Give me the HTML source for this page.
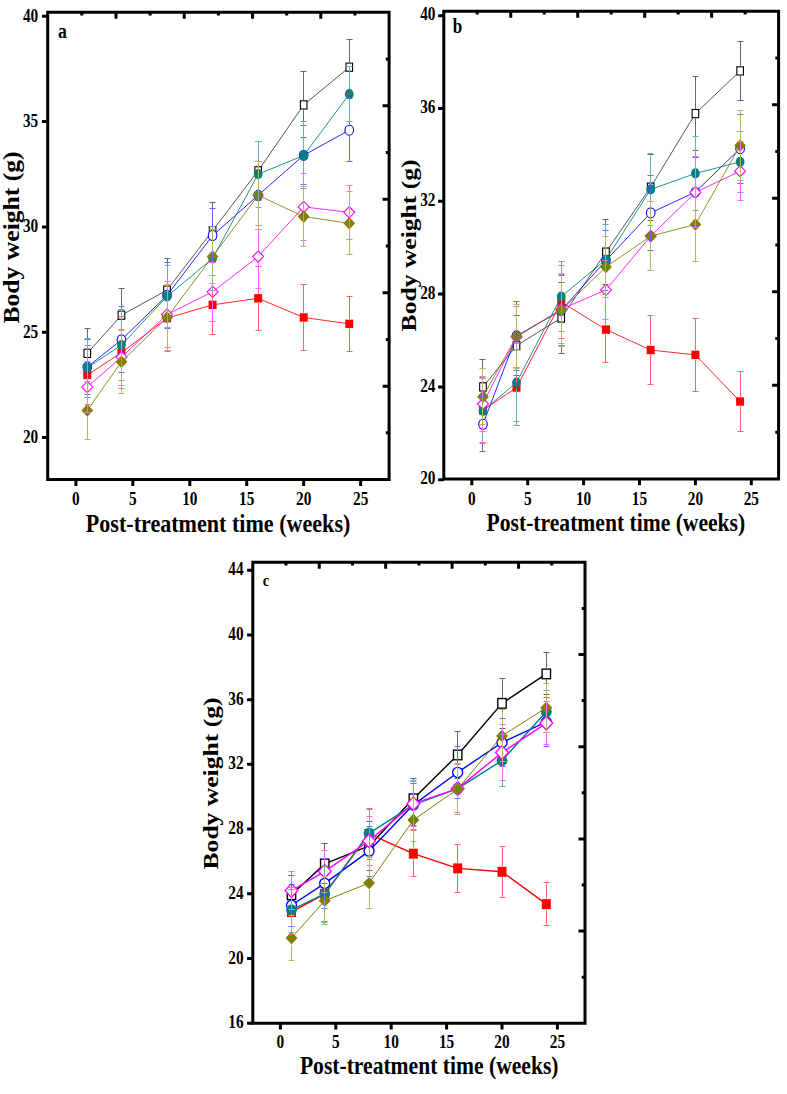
<!DOCTYPE html>
<html><head><meta charset="utf-8"><title>Body weight</title>
<style>
html,body{margin:0;padding:0;background:#fff;}
svg{display:block;}
text{font-family:"Liberation Serif", serif;font-weight:bold;fill:#000;}
.tl{font-size:18px;}
.tt{font-size:25.6px;}
.lt{font-size:20px;}
</style></head>
<body>
<svg width="787" height="1094" viewBox="0 0 787 1094">
<rect width="787" height="1094" fill="#fff"/>
<polyline points="87.29,353.32 121.46,315.18 167.02,290.11 212.58,230.69 258.14,170.85 303.70,104.90 349.26,67.19" stroke="#383838" stroke-width="0.85" fill="none" stroke-linejoin="round"/>
<rect x="83.99" y="349.22" width="6.60" height="8.20" fill="#fff" stroke="#000" stroke-width="1.1"/>
<rect x="118.16" y="311.08" width="6.60" height="8.20" fill="#fff" stroke="#000" stroke-width="1.1"/>
<rect x="163.72" y="286.01" width="6.60" height="8.20" fill="#fff" stroke="#000" stroke-width="1.1"/>
<rect x="209.28" y="226.59" width="6.60" height="8.20" fill="#fff" stroke="#000" stroke-width="1.1"/>
<rect x="254.84" y="166.75" width="6.60" height="8.20" fill="#fff" stroke="#000" stroke-width="1.1"/>
<rect x="300.40" y="100.80" width="6.60" height="8.20" fill="#fff" stroke="#000" stroke-width="1.1"/>
<rect x="345.96" y="63.09" width="6.60" height="8.20" fill="#fff" stroke="#000" stroke-width="1.1"/>
<polyline points="87.29,375.02 121.46,352.69 167.02,318.13 212.58,304.86 258.14,298.33 303.70,317.50 349.26,323.82" stroke="#ff0000" stroke-width="0.85" fill="none" stroke-linejoin="round"/>
<rect x="83.29" y="370.82" width="8.00" height="8.40" fill="#ff0000"/>
<rect x="117.46" y="348.49" width="8.00" height="8.40" fill="#ff0000"/>
<rect x="163.02" y="313.93" width="8.00" height="8.40" fill="#ff0000"/>
<rect x="208.58" y="300.66" width="8.00" height="8.40" fill="#ff0000"/>
<rect x="254.14" y="294.13" width="8.00" height="8.40" fill="#ff0000"/>
<rect x="299.70" y="313.30" width="8.00" height="8.40" fill="#ff0000"/>
<rect x="345.26" y="319.62" width="8.00" height="8.40" fill="#ff0000"/>
<polyline points="87.29,367.02 121.46,339.84 167.02,295.38 212.58,235.54 258.14,195.29 303.70,155.26 349.26,130.19" stroke="#0000ff" stroke-width="0.85" fill="none" stroke-linejoin="round"/>
<ellipse cx="87.29" cy="367.02" rx="4.30" ry="5.00" fill="#fff" stroke="#0000ff" stroke-width="1.1"/>
<ellipse cx="121.46" cy="339.84" rx="4.30" ry="5.00" fill="#fff" stroke="#0000ff" stroke-width="1.1"/>
<ellipse cx="167.02" cy="295.38" rx="4.30" ry="5.00" fill="#fff" stroke="#0000ff" stroke-width="1.1"/>
<ellipse cx="212.58" cy="235.54" rx="4.30" ry="5.00" fill="#fff" stroke="#0000ff" stroke-width="1.1"/>
<ellipse cx="258.14" cy="195.29" rx="4.30" ry="5.00" fill="#fff" stroke="#0000ff" stroke-width="1.1"/>
<ellipse cx="303.70" cy="155.26" rx="4.30" ry="5.00" fill="#fff" stroke="#0000ff" stroke-width="1.1"/>
<ellipse cx="349.26" cy="130.19" rx="4.30" ry="5.00" fill="#fff" stroke="#0000ff" stroke-width="1.1"/>
<polyline points="87.29,367.65 121.46,345.10 167.02,296.43 212.58,258.50 258.14,174.22 303.70,155.47 349.26,94.16" stroke="#008080" stroke-width="0.85" fill="none" stroke-linejoin="round"/>
<ellipse cx="87.29" cy="367.65" rx="4.40" ry="5.10" fill="#008080"/>
<ellipse cx="121.46" cy="345.10" rx="4.40" ry="5.10" fill="#008080"/>
<ellipse cx="167.02" cy="296.43" rx="4.40" ry="5.10" fill="#008080"/>
<ellipse cx="212.58" cy="258.50" rx="4.40" ry="5.10" fill="#008080"/>
<ellipse cx="258.14" cy="174.22" rx="4.40" ry="5.10" fill="#008080"/>
<ellipse cx="303.70" cy="155.47" rx="4.40" ry="5.10" fill="#008080"/>
<ellipse cx="349.26" cy="94.16" rx="4.40" ry="5.10" fill="#008080"/>
<polyline points="87.29,387.03 121.46,357.11 167.02,314.55 212.58,291.80 258.14,256.61 303.70,206.88 349.26,212.36" stroke="#ff00ff" stroke-width="0.85" fill="none" stroke-linejoin="round"/>
<path d="M87.29 381.43L92.79 387.03L87.29 392.63L81.79 387.03Z" fill="#fff" stroke="#ff00ff" stroke-width="1.1"/>
<path d="M121.46 351.51L126.96 357.11L121.46 362.71L115.96 357.11Z" fill="#fff" stroke="#ff00ff" stroke-width="1.1"/>
<path d="M167.02 308.95L172.52 314.55L167.02 320.15L161.52 314.55Z" fill="#fff" stroke="#ff00ff" stroke-width="1.1"/>
<path d="M212.58 286.20L218.08 291.80L212.58 297.40L207.08 291.80Z" fill="#fff" stroke="#ff00ff" stroke-width="1.1"/>
<path d="M258.14 251.01L263.64 256.61L258.14 262.21L252.64 256.61Z" fill="#fff" stroke="#ff00ff" stroke-width="1.1"/>
<path d="M303.70 201.28L309.20 206.88L303.70 212.48L298.20 206.88Z" fill="#fff" stroke="#ff00ff" stroke-width="1.1"/>
<path d="M349.26 206.76L354.76 212.36L349.26 217.96L343.76 212.36Z" fill="#fff" stroke="#ff00ff" stroke-width="1.1"/>
<polyline points="87.29,410.42 121.46,361.75 167.02,317.50 212.58,256.61 258.14,195.29 303.70,216.58 349.26,223.32" stroke="#808000" stroke-width="0.85" fill="none" stroke-linejoin="round"/>
<path d="M87.29 404.12L93.19 410.42L87.29 416.72L81.39 410.42Z" fill="#808000"/>
<path d="M121.46 355.45L127.36 361.75L121.46 368.05L115.56 361.75Z" fill="#808000"/>
<path d="M167.02 311.20L172.92 317.50L167.02 323.80L161.12 317.50Z" fill="#808000"/>
<path d="M212.58 250.31L218.48 256.61L212.58 262.91L206.68 256.61Z" fill="#808000"/>
<path d="M258.14 188.99L264.04 195.29L258.14 201.59L252.24 195.29Z" fill="#808000"/>
<path d="M303.70 210.28L309.60 216.58L303.70 222.88L297.80 216.58Z" fill="#808000"/>
<path d="M349.26 217.02L355.16 223.32L349.26 229.62L343.36 223.32Z" fill="#808000"/>
<path d="M87.50 328.50V348.72M87.50 357.92V378.50M84.50 328.50h6M84.50 378.50h6M121.50 288.50V310.58M121.50 319.78V342.50M118.50 288.50h6M118.50 342.50h6M167.50 258.50V285.51M167.50 294.71V321.50M164.50 258.50h6M164.50 321.50h6M212.50 202.50V226.09M212.50 235.29V258.50M209.50 202.50h6M209.50 258.50h6M258.50 141.50V166.25M258.50 175.45V200.50M255.50 141.50h6M255.50 200.50h6M303.50 71.50V100.30M303.50 109.50V137.50M300.50 71.50h6M300.50 137.50h6M349.50 39.50V62.59M349.50 71.79V94.50M346.50 39.50h6M346.50 94.50h6" stroke="#666666" stroke-width="1" fill="none"/>
<path d="M87.50 345.50V370.32M87.50 379.72V404.50M84.50 345.50h6M84.50 404.50h6M121.50 316.50V347.99M121.50 357.39V388.50M118.50 316.50h6M118.50 388.50h6M167.50 285.50V313.43M167.50 322.83V351.50M164.50 285.50h6M164.50 351.50h6M212.50 275.50V300.16M212.50 309.56V334.50M209.50 275.50h6M209.50 334.50h6M258.50 266.50V293.63M258.50 303.03V330.50M255.50 266.50h6M255.50 330.50h6M303.50 284.50V312.80M303.50 322.20V350.50M300.50 284.50h6M300.50 350.50h6M349.50 296.50V319.12M349.50 328.52V351.50M346.50 296.50h6M346.50 351.50h6" stroke="#ff6666" stroke-width="1" fill="none"/>
<path d="M87.50 339.50V361.52M87.50 372.52V394.50M84.50 339.50h6M84.50 394.50h6M121.50 306.50V334.34M121.50 345.34V372.50M118.50 306.50h6M118.50 372.50h6M167.50 262.50V289.88M167.50 300.88V328.50M164.50 262.50h6M164.50 328.50h6M212.50 208.50V230.04M212.50 241.04V262.50M209.50 208.50h6M209.50 262.50h6M258.50 161.50V189.79M258.50 200.79V229.50M255.50 161.50h6M255.50 229.50h6M303.50 125.50V149.76M303.50 160.76V184.50M300.50 125.50h6M300.50 184.50h6M349.50 98.50V124.69M349.50 135.69V161.50M346.50 98.50h6M346.50 161.50h6" stroke="#6666ff" stroke-width="1" fill="none"/>
<path d="M87.50 338.50V362.05M87.50 373.25V397.50M84.50 338.50h6M84.50 397.50h6M121.50 309.50V339.50M121.50 350.70V380.50M118.50 309.50h6M118.50 380.50h6M167.50 265.50V290.83M167.50 302.03V327.50M164.50 265.50h6M164.50 327.50h6M212.50 226.50V252.91M212.50 264.11V290.50M209.50 226.50h6M209.50 290.50h6M258.50 141.50V168.62M258.50 179.82V207.50M255.50 141.50h6M255.50 207.50h6M303.50 121.50V149.87M303.50 161.07V188.50M300.50 121.50h6M300.50 188.50h6M349.50 66.50V88.56M349.50 99.76V121.50M346.50 66.50h6M346.50 121.50h6" stroke="#66b3b3" stroke-width="1" fill="none"/>
<path d="M87.50 361.50V380.93M87.50 393.13V412.50M84.50 361.50h6M84.50 412.50h6M121.50 329.50V351.01M121.50 363.21V385.50M118.50 329.50h6M118.50 385.50h6M167.50 281.50V308.45M167.50 320.65V347.50M164.50 281.50h6M164.50 347.50h6M212.50 262.50V285.70M212.50 297.90V321.50M209.50 262.50h6M209.50 321.50h6M258.50 225.50V250.51M258.50 262.71V288.50M255.50 225.50h6M255.50 288.50h6M303.50 173.50V200.78M303.50 212.98V240.50M300.50 173.50h6M300.50 240.50h6M349.50 185.50V206.26M349.50 218.46V239.50M346.50 185.50h6M346.50 239.50h6" stroke="#ff66ff" stroke-width="1" fill="none"/>
<path d="M87.50 381.50V403.62M87.50 417.22V439.50M84.50 381.50h6M84.50 439.50h6M121.50 330.50V354.95M121.50 368.55V393.50M118.50 330.50h6M118.50 393.50h6M167.50 284.50V310.70M167.50 324.30V350.50M164.50 284.50h6M164.50 350.50h6M212.50 229.50V249.81M212.50 263.41V283.50M209.50 229.50h6M209.50 283.50h6M258.50 161.50V188.49M258.50 202.09V229.50M255.50 161.50h6M255.50 229.50h6M303.50 186.50V209.78M303.50 223.38V246.50M300.50 186.50h6M300.50 246.50h6M349.50 191.50V216.52M349.50 230.12V254.50M346.50 191.50h6M346.50 254.50h6" stroke="#b3b366" stroke-width="1" fill="none"/>
<path d="M47.70 12.30H389.10V479.60H47.70Z" fill="none" stroke="#000" stroke-width="3" stroke-linejoin="miter"/>
<path d="M42.00 437.60H47.70M42.00 332.25H47.70M42.00 226.90H47.70M42.00 121.55H47.70M42.00 16.20H47.70M75.90 479.60V485.90M132.85 479.60V485.90M189.80 479.60V485.90M246.75 479.60V485.90M303.70 479.60V485.90M360.65 479.60V485.90M81.84 12.30V15.60M115.98 12.30V18.80M150.12 12.30V15.60M184.26 12.30V18.80M218.40 12.30V15.60M252.54 12.30V18.80M286.68 12.30V15.60M320.82 12.30V18.80M354.96 12.30V15.60M389.10 59.03H385.80M389.10 105.76H382.60M389.10 152.49H385.80M389.10 199.22H382.60M389.10 245.95H385.80M389.10 292.68H382.60M389.10 339.41H385.80M389.10 386.14H382.60M389.10 432.87H385.80" stroke="#000" stroke-width="3" fill="none"/>
<text transform="translate(38.20,442.90) scale(0.85,1)" text-anchor="end" class="tl">20</text>
<text transform="translate(38.20,337.55) scale(0.85,1)" text-anchor="end" class="tl">25</text>
<text transform="translate(38.20,232.20) scale(0.85,1)" text-anchor="end" class="tl">30</text>
<text transform="translate(38.20,126.85) scale(0.85,1)" text-anchor="end" class="tl">35</text>
<text transform="translate(38.20,21.50) scale(0.85,1)" text-anchor="end" class="tl">40</text>
<text transform="translate(75.90,504.50) scale(0.85,1)" text-anchor="middle" class="tl">0</text>
<text transform="translate(132.85,504.50) scale(0.85,1)" text-anchor="middle" class="tl">5</text>
<text transform="translate(189.80,504.50) scale(0.85,1)" text-anchor="middle" class="tl">10</text>
<text transform="translate(246.75,504.50) scale(0.85,1)" text-anchor="middle" class="tl">15</text>
<text transform="translate(303.70,504.50) scale(0.85,1)" text-anchor="middle" class="tl">20</text>
<text transform="translate(360.65,504.50) scale(0.85,1)" text-anchor="middle" class="tl">25</text>
<text transform="translate(85.80,531.50) scale(0.863,1)" class="tt">Post-treatment time (weeks)</text>
<text transform="translate(18.60,237.50) rotate(-90) scale(1,0.863)" text-anchor="middle" class="tt">Body weight (g)</text>
<text transform="translate(58.00,37.60) scale(0.87,1)" style="font-size:20.5px">a</text>
<polyline points="482.98,386.90 516.52,345.60 561.24,318.00 605.96,252.11 650.68,187.15 695.40,113.60 740.12,70.92" stroke="#383838" stroke-width="0.85" fill="none" stroke-linejoin="round"/>
<rect x="479.68" y="382.80" width="6.60" height="8.20" fill="#fff" stroke="#000" stroke-width="1.1"/>
<rect x="513.22" y="341.50" width="6.60" height="8.20" fill="#fff" stroke="#000" stroke-width="1.1"/>
<rect x="557.94" y="313.90" width="6.60" height="8.20" fill="#fff" stroke="#000" stroke-width="1.1"/>
<rect x="602.66" y="248.01" width="6.60" height="8.20" fill="#fff" stroke="#000" stroke-width="1.1"/>
<rect x="647.38" y="183.05" width="6.60" height="8.20" fill="#fff" stroke="#000" stroke-width="1.1"/>
<rect x="692.10" y="109.50" width="6.60" height="8.20" fill="#fff" stroke="#000" stroke-width="1.1"/>
<rect x="736.82" y="66.82" width="6.60" height="8.20" fill="#fff" stroke="#000" stroke-width="1.1"/>
<polyline points="482.98,410.10 516.52,387.60 561.24,301.99 605.96,329.60 650.68,350.01 695.40,354.88 740.12,401.52" stroke="#ff0000" stroke-width="0.85" fill="none" stroke-linejoin="round"/>
<rect x="478.98" y="405.90" width="8.00" height="8.40" fill="#ff0000"/>
<rect x="512.52" y="383.40" width="8.00" height="8.40" fill="#ff0000"/>
<rect x="557.24" y="297.79" width="8.00" height="8.40" fill="#ff0000"/>
<rect x="601.96" y="325.40" width="8.00" height="8.40" fill="#ff0000"/>
<rect x="646.68" y="345.81" width="8.00" height="8.40" fill="#ff0000"/>
<rect x="691.40" y="350.68" width="8.00" height="8.40" fill="#ff0000"/>
<rect x="736.12" y="397.32" width="8.00" height="8.40" fill="#ff0000"/>
<polyline points="482.98,424.25 516.52,335.86 561.24,310.34 605.96,260.46 650.68,212.90 695.40,192.02 740.12,148.64" stroke="#0000ff" stroke-width="0.85" fill="none" stroke-linejoin="round"/>
<ellipse cx="482.98" cy="424.25" rx="4.30" ry="5.00" fill="#fff" stroke="#0000ff" stroke-width="1.1"/>
<ellipse cx="516.52" cy="335.86" rx="4.30" ry="5.00" fill="#fff" stroke="#0000ff" stroke-width="1.1"/>
<ellipse cx="561.24" cy="310.34" rx="4.30" ry="5.00" fill="#fff" stroke="#0000ff" stroke-width="1.1"/>
<ellipse cx="605.96" cy="260.46" rx="4.30" ry="5.00" fill="#fff" stroke="#0000ff" stroke-width="1.1"/>
<ellipse cx="650.68" cy="212.90" rx="4.30" ry="5.00" fill="#fff" stroke="#0000ff" stroke-width="1.1"/>
<ellipse cx="695.40" cy="192.02" rx="4.30" ry="5.00" fill="#fff" stroke="#0000ff" stroke-width="1.1"/>
<ellipse cx="740.12" cy="148.64" rx="4.30" ry="5.00" fill="#fff" stroke="#0000ff" stroke-width="1.1"/>
<polyline points="482.98,410.80 516.52,382.49 561.24,296.65 605.96,259.53 650.68,189.47 695.40,173.46 740.12,161.86" stroke="#008080" stroke-width="0.85" fill="none" stroke-linejoin="round"/>
<ellipse cx="482.98" cy="410.80" rx="4.40" ry="5.10" fill="#008080"/>
<ellipse cx="516.52" cy="382.49" rx="4.40" ry="5.10" fill="#008080"/>
<ellipse cx="561.24" cy="296.65" rx="4.40" ry="5.10" fill="#008080"/>
<ellipse cx="605.96" cy="259.53" rx="4.40" ry="5.10" fill="#008080"/>
<ellipse cx="650.68" cy="189.47" rx="4.40" ry="5.10" fill="#008080"/>
<ellipse cx="695.40" cy="173.46" rx="4.40" ry="5.10" fill="#008080"/>
<ellipse cx="740.12" cy="161.86" rx="4.40" ry="5.10" fill="#008080"/>
<polyline points="482.98,403.84 516.52,337.02 561.24,309.18 605.96,289.92 650.68,236.10 695.40,192.48 740.12,171.14" stroke="#ff00ff" stroke-width="0.85" fill="none" stroke-linejoin="round"/>
<path d="M482.98 398.24L488.48 403.84L482.98 409.44L477.48 403.84Z" fill="#fff" stroke="#ff00ff" stroke-width="1.1"/>
<path d="M516.52 331.42L522.02 337.02L516.52 342.62L511.02 337.02Z" fill="#fff" stroke="#ff00ff" stroke-width="1.1"/>
<path d="M561.24 303.58L566.74 309.18L561.24 314.78L555.74 309.18Z" fill="#fff" stroke="#ff00ff" stroke-width="1.1"/>
<path d="M605.96 284.32L611.46 289.92L605.96 295.52L600.46 289.92Z" fill="#fff" stroke="#ff00ff" stroke-width="1.1"/>
<path d="M650.68 230.50L656.18 236.10L650.68 241.70L645.18 236.10Z" fill="#fff" stroke="#ff00ff" stroke-width="1.1"/>
<path d="M695.40 186.88L700.90 192.48L695.40 198.08L689.90 192.48Z" fill="#fff" stroke="#ff00ff" stroke-width="1.1"/>
<path d="M740.12 165.54L745.62 171.14L740.12 176.74L734.62 171.14Z" fill="#fff" stroke="#ff00ff" stroke-width="1.1"/>
<polyline points="482.98,396.64 516.52,336.32 561.24,310.34 605.96,266.96 650.68,236.10 695.40,224.50 740.12,145.62" stroke="#808000" stroke-width="0.85" fill="none" stroke-linejoin="round"/>
<path d="M482.98 390.34L488.88 396.64L482.98 402.94L477.08 396.64Z" fill="#808000"/>
<path d="M516.52 330.02L522.42 336.32L516.52 342.62L510.62 336.32Z" fill="#808000"/>
<path d="M561.24 304.04L567.14 310.34L561.24 316.64L555.34 310.34Z" fill="#808000"/>
<path d="M605.96 260.66L611.86 266.96L605.96 273.26L600.06 266.96Z" fill="#808000"/>
<path d="M650.68 229.80L656.58 236.10L650.68 242.40L644.78 236.10Z" fill="#808000"/>
<path d="M695.40 218.20L701.30 224.50L695.40 230.80L689.50 224.50Z" fill="#808000"/>
<path d="M740.12 139.32L746.02 145.62L740.12 151.92L734.22 145.62Z" fill="#808000"/>
<path d="M482.50 359.50V382.30M482.50 391.50V414.50M479.50 359.50h6M479.50 414.50h6M516.50 315.50V341.00M516.50 350.20V375.50M513.50 315.50h6M513.50 375.50h6M561.50 282.50V313.40M561.50 322.60V353.50M558.50 282.50h6M558.50 353.50h6M605.50 219.50V247.51M605.50 256.71V284.50M602.50 219.50h6M602.50 284.50h6M650.50 154.50V182.55M650.50 191.75V220.50M647.50 154.50h6M647.50 220.50h6M695.50 76.50V109.00M695.50 118.20V150.50M692.50 76.50h6M692.50 150.50h6M740.50 41.50V66.32M740.50 75.52V100.50M737.50 41.50h6M737.50 100.50h6" stroke="#666666" stroke-width="1" fill="none"/>
<path d="M482.50 377.50V405.40M482.50 414.80V442.50M479.50 377.50h6M479.50 442.50h6M516.50 349.50V382.90M516.50 392.30V425.50M513.50 349.50h6M513.50 425.50h6M561.50 265.50V297.29M561.50 306.69V338.50M558.50 265.50h6M558.50 338.50h6M605.50 297.50V324.90M605.50 334.30V362.50M602.50 297.50h6M602.50 362.50h6M650.50 315.50V345.31M650.50 354.71V384.50M647.50 315.50h6M647.50 384.50h6M695.50 318.50V350.18M695.50 359.58V391.50M692.50 318.50h6M692.50 391.50h6M740.50 371.50V396.82M740.50 406.22V431.50M737.50 371.50h6M737.50 431.50h6" stroke="#ff6666" stroke-width="1" fill="none"/>
<path d="M482.50 396.50V418.75M482.50 429.75V451.50M479.50 396.50h6M479.50 451.50h6M516.50 301.50V330.36M516.50 341.36V370.50M513.50 301.50h6M513.50 370.50h6M561.50 275.50V304.84M561.50 315.84V345.50M558.50 275.50h6M558.50 345.50h6M605.50 230.50V254.96M605.50 265.96V290.50M602.50 230.50h6M602.50 290.50h6M650.50 175.50V207.40M650.50 218.40V250.50M647.50 175.50h6M647.50 250.50h6M695.50 157.50V186.52M695.50 197.52V226.50M692.50 157.50h6M692.50 226.50h6M740.50 114.50V143.14M740.50 154.14V183.50M737.50 114.50h6M737.50 183.50h6" stroke="#6666ff" stroke-width="1" fill="none"/>
<path d="M482.50 378.50V405.20M482.50 416.40V443.50M479.50 378.50h6M479.50 443.50h6M516.50 343.50V376.89M516.50 388.09V421.50M513.50 343.50h6M513.50 421.50h6M561.50 261.50V291.05M561.50 302.25V331.50M558.50 261.50h6M558.50 331.50h6M605.50 224.50V253.93M605.50 265.13V294.50M602.50 224.50h6M602.50 294.50h6M650.50 153.50V183.87M650.50 195.07V225.50M647.50 153.50h6M647.50 225.50h6M695.50 136.50V167.86M695.50 179.06V210.50M692.50 136.50h6M692.50 210.50h6M740.50 131.50V156.26M740.50 167.46V192.50M737.50 131.50h6M737.50 192.50h6" stroke="#66b3b3" stroke-width="1" fill="none"/>
<path d="M482.50 376.50V397.74M482.50 409.94V431.50M479.50 376.50h6M479.50 431.50h6M516.50 306.50V330.92M516.50 343.12V367.50M513.50 306.50h6M513.50 367.50h6M561.50 274.50V303.08M561.50 315.28V343.50M558.50 274.50h6M558.50 343.50h6M605.50 260.50V283.82M605.50 296.02V319.50M602.50 260.50h6M602.50 319.50h6M650.50 201.50V230.00M650.50 242.20V270.50M647.50 201.50h6M647.50 270.50h6M695.50 156.50V186.38M695.50 198.58V227.50M692.50 156.50h6M692.50 227.50h6M740.50 141.50V165.04M740.50 177.24V200.50M737.50 141.50h6M737.50 200.50h6" stroke="#ff66ff" stroke-width="1" fill="none"/>
<path d="M482.50 368.50V389.84M482.50 403.44V424.50M479.50 368.50h6M479.50 424.50h6M516.50 304.50V329.52M516.50 343.12V368.50M513.50 304.50h6M513.50 368.50h6M561.50 273.50V303.54M561.50 317.14V346.50M558.50 273.50h6M558.50 346.50h6M605.50 236.50V260.16M605.50 273.76V297.50M602.50 236.50h6M602.50 297.50h6M650.50 201.50V229.30M650.50 242.90V270.50M647.50 201.50h6M647.50 270.50h6M695.50 187.50V217.70M695.50 231.30V261.50M692.50 187.50h6M692.50 261.50h6M740.50 110.50V138.82M740.50 152.42V180.50M737.50 110.50h6M737.50 180.50h6" stroke="#b3b366" stroke-width="1" fill="none"/>
<path d="M443.80 11.20H778.60V478.90H443.80Z" fill="none" stroke="#000" stroke-width="3" stroke-linejoin="miter"/>
<path d="M438.10 479.70H443.80M438.10 386.90H443.80M438.10 294.10H443.80M438.10 201.30H443.80M438.10 108.50H443.80M438.10 15.70H443.80M471.80 478.90V485.20M527.70 478.90V485.20M583.60 478.90V485.20M639.50 478.90V485.20M695.40 478.90V485.20M751.30 478.90V485.20M477.28 11.20V14.50M510.76 11.20V17.70M544.24 11.20V14.50M577.72 11.20V17.70M611.20 11.20V14.50M644.68 11.20V17.70M678.16 11.20V14.50M711.64 11.20V17.70M745.12 11.20V14.50M778.60 57.97H775.30M778.60 104.74H772.10M778.60 151.51H775.30M778.60 198.28H772.10M778.60 245.05H775.30M778.60 291.82H772.10M778.60 338.59H775.30M778.60 385.36H772.10M778.60 432.13H775.30" stroke="#000" stroke-width="3" fill="none"/>
<text transform="translate(435.50,484.40) scale(0.85,1)" text-anchor="end" class="tl">20</text>
<text transform="translate(435.50,391.60) scale(0.85,1)" text-anchor="end" class="tl">24</text>
<text transform="translate(435.50,298.80) scale(0.85,1)" text-anchor="end" class="tl">28</text>
<text transform="translate(435.50,206.00) scale(0.85,1)" text-anchor="end" class="tl">32</text>
<text transform="translate(435.50,113.20) scale(0.85,1)" text-anchor="end" class="tl">36</text>
<text transform="translate(435.50,20.40) scale(0.85,1)" text-anchor="end" class="tl">40</text>
<text transform="translate(471.80,504.60) scale(0.85,1)" text-anchor="middle" class="tl">0</text>
<text transform="translate(527.70,504.60) scale(0.85,1)" text-anchor="middle" class="tl">5</text>
<text transform="translate(583.60,504.60) scale(0.85,1)" text-anchor="middle" class="tl">10</text>
<text transform="translate(639.50,504.60) scale(0.85,1)" text-anchor="middle" class="tl">15</text>
<text transform="translate(695.40,504.60) scale(0.85,1)" text-anchor="middle" class="tl">20</text>
<text transform="translate(751.30,504.60) scale(0.85,1)" text-anchor="middle" class="tl">25</text>
<text transform="translate(486.60,530.80) scale(0.844,1)" class="tt">Post-treatment time (weeks)</text>
<text transform="translate(416.40,245.40) rotate(-90) scale(1,0.86)" text-anchor="middle" class="tt">Body weight (g)</text>
<text transform="translate(452.80,33.20) scale(0.85,1)" style="font-size:20px">b</text>
<polyline points="291.48,894.77 324.72,863.87 369.04,845.91 413.36,798.82 457.68,754.98 502.00,703.36 546.32,673.91" stroke="#000000" stroke-width="1.4" fill="none" stroke-linejoin="round"/>
<rect x="287.28" y="889.97" width="8.40" height="9.60" fill="#fff" stroke="#000" stroke-width="1.35"/>
<rect x="320.52" y="859.07" width="8.40" height="9.60" fill="#fff" stroke="#000" stroke-width="1.35"/>
<rect x="364.84" y="841.11" width="8.40" height="9.60" fill="#fff" stroke="#000" stroke-width="1.35"/>
<rect x="409.16" y="794.02" width="8.40" height="9.60" fill="#fff" stroke="#000" stroke-width="1.35"/>
<rect x="453.48" y="750.18" width="8.40" height="9.60" fill="#fff" stroke="#000" stroke-width="1.35"/>
<rect x="497.80" y="698.56" width="8.40" height="9.60" fill="#fff" stroke="#000" stroke-width="1.35"/>
<rect x="542.12" y="669.11" width="8.40" height="9.60" fill="#fff" stroke="#000" stroke-width="1.35"/>
<polyline points="291.48,912.08 324.72,893.80 369.04,833.93 413.36,853.67 457.68,868.40 502.00,871.80 546.32,904.16" stroke="#ff0000" stroke-width="1.4" fill="none" stroke-linejoin="round"/>
<rect x="286.98" y="907.08" width="9.00" height="10.00" fill="#ff0000"/>
<rect x="320.22" y="888.80" width="9.00" height="10.00" fill="#ff0000"/>
<rect x="364.54" y="828.93" width="9.00" height="10.00" fill="#ff0000"/>
<rect x="408.86" y="848.67" width="9.00" height="10.00" fill="#ff0000"/>
<rect x="453.18" y="863.40" width="9.00" height="10.00" fill="#ff0000"/>
<rect x="497.50" y="866.80" width="9.00" height="10.00" fill="#ff0000"/>
<rect x="541.82" y="899.16" width="9.00" height="10.00" fill="#ff0000"/>
<polyline points="291.48,905.29 324.72,883.44 369.04,851.08 413.36,804.81 457.68,772.45 502.00,742.52 546.32,721.97" stroke="#0000ff" stroke-width="1.4" fill="none" stroke-linejoin="round"/>
<ellipse cx="291.48" cy="905.29" rx="5.00" ry="5.10" fill="#fff" stroke="#0000ff" stroke-width="1.35"/>
<ellipse cx="324.72" cy="883.44" rx="5.00" ry="5.10" fill="#fff" stroke="#0000ff" stroke-width="1.35"/>
<ellipse cx="369.04" cy="851.08" rx="5.00" ry="5.10" fill="#fff" stroke="#0000ff" stroke-width="1.35"/>
<ellipse cx="413.36" cy="804.81" rx="5.00" ry="5.10" fill="#fff" stroke="#0000ff" stroke-width="1.35"/>
<ellipse cx="457.68" cy="772.45" rx="5.00" ry="5.10" fill="#fff" stroke="#0000ff" stroke-width="1.35"/>
<ellipse cx="502.00" cy="742.52" rx="5.00" ry="5.10" fill="#fff" stroke="#0000ff" stroke-width="1.35"/>
<ellipse cx="546.32" cy="721.97" rx="5.00" ry="5.10" fill="#fff" stroke="#0000ff" stroke-width="1.35"/>
<polyline points="291.48,909.98 324.72,893.80 369.04,833.29 413.36,804.81 457.68,788.63 502.00,760.48 546.32,711.78" stroke="#008080" stroke-width="1.4" fill="none" stroke-linejoin="round"/>
<ellipse cx="291.48" cy="909.98" rx="5.40" ry="5.80" fill="#008080"/>
<ellipse cx="324.72" cy="893.80" rx="5.40" ry="5.80" fill="#008080"/>
<ellipse cx="369.04" cy="833.29" rx="5.40" ry="5.80" fill="#008080"/>
<ellipse cx="413.36" cy="804.81" rx="5.40" ry="5.80" fill="#008080"/>
<ellipse cx="457.68" cy="788.63" rx="5.40" ry="5.80" fill="#008080"/>
<ellipse cx="502.00" cy="760.48" rx="5.40" ry="5.80" fill="#008080"/>
<ellipse cx="546.32" cy="711.78" rx="5.40" ry="5.80" fill="#008080"/>
<polyline points="291.48,890.56 324.72,871.31 369.04,840.89 413.36,803.68 457.68,788.63 502.00,752.55 546.32,723.10" stroke="#ff00ff" stroke-width="1.4" fill="none" stroke-linejoin="round"/>
<path d="M291.48 883.66L297.88 890.56L291.48 897.46L285.08 890.56Z" fill="#fff" stroke="#ff00ff" stroke-width="1.35"/>
<path d="M324.72 864.41L331.12 871.31L324.72 878.21L318.32 871.31Z" fill="#fff" stroke="#ff00ff" stroke-width="1.35"/>
<path d="M369.04 833.99L375.44 840.89L369.04 847.79L362.64 840.89Z" fill="#fff" stroke="#ff00ff" stroke-width="1.35"/>
<path d="M413.36 796.78L419.76 803.68L413.36 810.58L406.96 803.68Z" fill="#fff" stroke="#ff00ff" stroke-width="1.35"/>
<path d="M457.68 781.73L464.08 788.63L457.68 795.53L451.28 788.63Z" fill="#fff" stroke="#ff00ff" stroke-width="1.35"/>
<path d="M502.00 745.65L508.40 752.55L502.00 759.45L495.60 752.55Z" fill="#fff" stroke="#ff00ff" stroke-width="1.35"/>
<path d="M546.32 716.20L552.72 723.10L546.32 730.00L539.92 723.10Z" fill="#fff" stroke="#ff00ff" stroke-width="1.35"/>
<polyline points="291.48,937.97 324.72,900.76 369.04,883.12 413.36,820.02 457.68,789.12 502.00,735.88 546.32,707.73" stroke="#808000" stroke-width="1.0" fill="none" stroke-linejoin="round"/>
<path d="M291.48 931.77L297.48 937.97L291.48 944.17L285.48 937.97Z" fill="#808000"/>
<path d="M324.72 894.56L330.72 900.76L324.72 906.96L318.72 900.76Z" fill="#808000"/>
<path d="M369.04 876.92L375.04 883.12L369.04 889.32L363.04 883.12Z" fill="#808000"/>
<path d="M413.36 813.82L419.36 820.02L413.36 826.22L407.36 820.02Z" fill="#808000"/>
<path d="M457.68 782.92L463.68 789.12L457.68 795.32L451.68 789.12Z" fill="#808000"/>
<path d="M502.00 729.68L508.00 735.88L502.00 742.08L496.00 735.88Z" fill="#808000"/>
<path d="M546.32 701.53L552.32 707.73L546.32 713.93L540.32 707.73Z" fill="#808000"/>
<path d="M291.50 875.50V889.47M291.50 900.07V914.50M288.50 875.50h6M288.50 914.50h6M324.50 843.50V858.57M324.50 869.17V883.50M321.50 843.50h6M321.50 883.50h6M369.50 821.50V840.61M369.50 851.21V870.50M366.50 821.50h6M366.50 870.50h6M413.50 778.50V793.52M413.50 804.12V819.50M410.50 778.50h6M410.50 819.50h6M457.50 731.50V749.68M457.50 760.28V778.50M454.50 731.50h6M454.50 778.50h6M502.50 678.50V698.06M502.50 708.66V728.50M499.50 678.50h6M499.50 728.50h6M546.50 652.50V668.61M546.50 679.21V694.50M543.50 652.50h6M543.50 694.50h6" stroke="#666666" stroke-width="1" fill="none"/>
<path d="M291.50 889.50V906.58M291.50 917.58V934.50M288.50 889.50h6M288.50 934.50h6M324.50 866.50V888.30M324.50 899.30V921.50M321.50 866.50h6M321.50 921.50h6M369.50 808.50V828.43M369.50 839.43V859.50M366.50 808.50h6M366.50 859.50h6M413.50 830.50V848.17M413.50 859.17V876.50M410.50 830.50h6M410.50 876.50h6M457.50 844.50V862.90M457.50 873.90V892.50M454.50 844.50h6M454.50 892.50h6M502.50 846.50V866.30M502.50 877.30V897.50M499.50 846.50h6M499.50 897.50h6M546.50 882.50V898.66M546.50 909.66V925.50M543.50 882.50h6M543.50 925.50h6" stroke="#ff6666" stroke-width="1" fill="none"/>
<path d="M291.50 884.50V899.69M291.50 910.89V926.50M288.50 884.50h6M288.50 926.50h6M324.50 858.50V877.84M324.50 889.04V908.50M321.50 858.50h6M321.50 908.50h6M369.50 826.50V845.48M369.50 856.68V876.50M366.50 826.50h6M366.50 876.50h6M413.50 783.50V799.21M413.50 810.41V825.50M410.50 783.50h6M410.50 825.50h6M457.50 746.50V766.85M457.50 778.05V798.50M454.50 746.50h6M454.50 798.50h6M502.50 718.50V736.92M502.50 748.12V766.50M499.50 718.50h6M499.50 766.50h6M546.50 697.50V716.37M546.50 727.57V746.50M543.50 697.50h6M543.50 746.50h6" stroke="#6666ff" stroke-width="1" fill="none"/>
<path d="M291.50 887.50V903.68M291.50 916.28V932.50M288.50 887.50h6M288.50 932.50h6M324.50 865.50V887.50M324.50 900.10V922.50M321.50 865.50h6M321.50 922.50h6M369.50 809.50V826.99M369.50 839.59V856.50M366.50 809.50h6M366.50 856.50h6M413.50 780.50V798.51M413.50 811.11V829.50M410.50 780.50h6M410.50 829.50h6M457.50 763.50V782.33M457.50 794.93V814.50M454.50 763.50h6M454.50 814.50h6M502.50 734.50V754.18M502.50 766.78V786.50M499.50 734.50h6M499.50 786.50h6M546.50 690.50V705.48M546.50 718.08V732.50M543.50 690.50h6M543.50 732.50h6" stroke="#66b3b3" stroke-width="1" fill="none"/>
<path d="M291.50 871.50V883.16M291.50 897.96V909.50M288.50 871.50h6M288.50 909.50h6M324.50 850.50V863.91M324.50 878.71V892.50M321.50 850.50h6M321.50 892.50h6M369.50 816.50V833.49M369.50 848.29V865.50M366.50 816.50h6M366.50 865.50h6M413.50 781.50V796.28M413.50 811.08V826.50M410.50 781.50h6M410.50 826.50h6M457.50 764.50V781.23M457.50 796.03V812.50M454.50 764.50h6M454.50 812.50h6M502.50 724.50V745.15M502.50 759.95V780.50M499.50 724.50h6M499.50 780.50h6M546.50 701.50V715.70M546.50 730.50V744.50M543.50 701.50h6M543.50 744.50h6" stroke="#ff66ff" stroke-width="1" fill="none"/>
<path d="M291.50 915.50V931.27M291.50 944.67V960.50M288.50 915.50h6M288.50 960.50h6M324.50 876.50V894.06M324.50 907.46V924.50M321.50 876.50h6M321.50 924.50h6M369.50 857.50V876.42M369.50 889.82V908.50M366.50 857.50h6M366.50 908.50h6M413.50 798.50V813.32M413.50 826.72V841.50M410.50 798.50h6M410.50 841.50h6M457.50 763.50V782.42M457.50 795.82V814.50M454.50 763.50h6M454.50 814.50h6M502.50 709.50V729.18M502.50 742.58V761.50M499.50 709.50h6M499.50 761.50h6M546.50 683.50V701.03M546.50 714.43V732.50M543.50 683.50h6M543.50 732.50h6" stroke="#b3b366" stroke-width="1" fill="none"/>
<path d="M252.80 562.30H585.00V1023.30H252.80Z" fill="none" stroke="#000" stroke-width="3" stroke-linejoin="miter"/>
<path d="M247.10 1023.24H252.80M247.10 958.52H252.80M247.10 893.80H252.80M247.10 829.08H252.80M247.10 764.36H252.80M247.10 699.64H252.80M247.10 634.92H252.80M247.10 570.20H252.80M280.40 1023.30V1029.60M335.80 1023.30V1029.60M391.20 1023.30V1029.60M446.60 1023.30V1029.60M502.00 1023.30V1029.60M557.40 1023.30V1029.60M286.02 562.30V565.60M319.24 562.30V568.80M352.46 562.30V565.60M385.68 562.30V568.80M418.90 562.30V565.60M452.12 562.30V568.80M485.34 562.30V565.60M518.56 562.30V568.80M551.78 562.30V565.60M585.00 608.40H581.70M585.00 654.50H578.50M585.00 700.60H581.70M585.00 746.70H578.50M585.00 792.80H581.70M585.00 838.90H578.50M585.00 885.00H581.70M585.00 931.10H578.50M585.00 977.20H581.70" stroke="#000" stroke-width="3" fill="none"/>
<text transform="translate(243.60,1028.34) scale(0.85,1)" text-anchor="end" class="tl">16</text>
<text transform="translate(243.60,963.62) scale(0.85,1)" text-anchor="end" class="tl">20</text>
<text transform="translate(243.60,898.90) scale(0.85,1)" text-anchor="end" class="tl">24</text>
<text transform="translate(243.60,834.18) scale(0.85,1)" text-anchor="end" class="tl">28</text>
<text transform="translate(243.60,769.46) scale(0.85,1)" text-anchor="end" class="tl">32</text>
<text transform="translate(243.60,704.74) scale(0.85,1)" text-anchor="end" class="tl">36</text>
<text transform="translate(243.60,640.02) scale(0.85,1)" text-anchor="end" class="tl">40</text>
<text transform="translate(243.60,575.30) scale(0.85,1)" text-anchor="end" class="tl">44</text>
<text transform="translate(280.40,1047.60) scale(0.85,1)" text-anchor="middle" class="tl">0</text>
<text transform="translate(335.80,1047.60) scale(0.85,1)" text-anchor="middle" class="tl">5</text>
<text transform="translate(391.20,1047.60) scale(0.85,1)" text-anchor="middle" class="tl">10</text>
<text transform="translate(446.60,1047.60) scale(0.85,1)" text-anchor="middle" class="tl">15</text>
<text transform="translate(502.00,1047.60) scale(0.85,1)" text-anchor="middle" class="tl">20</text>
<text transform="translate(557.40,1047.60) scale(0.85,1)" text-anchor="middle" class="tl">25</text>
<text transform="translate(299.90,1073.50) scale(0.844,1)" class="tt">Post-treatment time (weeks)</text>
<text transform="translate(218.00,783.50) rotate(-90) scale(1,0.86)" text-anchor="middle" class="tt">Body weight (g)</text>
<text transform="translate(262.80,585.50) scale(0.88,1)" style="font-size:16.5px">c</text>
</svg>
</body></html>
